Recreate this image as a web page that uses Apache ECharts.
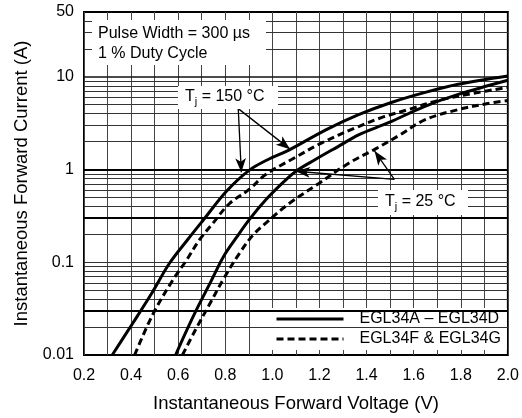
<!DOCTYPE html>
<html><head><meta charset="utf-8">
<script src="https://cdn.jsdelivr.net/npm/echarts@6/dist/echarts.min.js"></script>
<style>html,body{margin:0;padding:0;background:#fff}#c{width:522px;height:418px}</style>
</head><body><div id="c"></div>
<script>
// ---- data (V, A) ----
const solid150 = [[0.32,0.01],[0.407,0.022],[0.487,0.046],[0.563,0.0975],[0.639,0.174],[0.711,0.295],[0.804,0.58],[0.901,0.98],[0.986,1.30],[1.07,1.62],[1.227,2.68],[1.366,3.91],[1.505,5.29],[1.649,6.79],[1.789,8.3],[2.0,10.2]];
const dashed150 = [[0.415,0.01],[0.4915,0.0272],[0.576,0.0637],[0.635,0.105],[0.69,0.174],[0.745,0.259],[0.817,0.428],[0.901,0.61],[0.973,0.889],[1.083,1.29],[1.21,1.94],[1.353,2.82],[1.463,3.63],[1.577,4.43],[1.704,5.56],[1.852,6.62],[2.0,7.7]];
const solid25 = [[0.589,0.01],[0.635,0.0182],[0.682,0.0324],[0.737,0.0606],[0.791,0.1135],[0.846,0.183],[0.901,0.287],[0.973,0.474],[1.041,0.709],[1.1,0.96],[1.184,1.29],[1.282,1.79],[1.366,2.37],[1.493,3.2],[1.645,4.78],[1.789,6.46],[2.0,9.19]];
const dashed25 = [[0.618,0.01],[0.673,0.0186],[0.732,0.0348],[0.796,0.0686],[0.863,0.128],[0.918,0.197],[0.973,0.266],[1.07,0.428],[1.197,0.708],[1.324,1.17],[1.438,1.67],[1.535,2.31],[1.649,3.45],[1.789,4.43],[1.915,5.15],[2.0,5.56]];

const seriesNames = ['EGL34A \u2013 EGL34D', 'EGL34F & EGL34G'];
const xRange = [0.2, 2.0];
const yRange = [0.01, 50];
const yGridThin = [0.02,0.04,0.05,0.06,0.07,0.08,0.09,0.1,0.2,0.4,0.5,0.6,0.7,0.8,0.9,2,3,4,5,6,7,8,9,20,30,40];
const yGridThick = [0.03,0.3,1];
const yGridMedium = [10];
const arrows150 = [[[0.855,4.54],[0.868,0.935]],[[0.855,4.54],[1.075,1.66]]];
const arrows25 = [[[1.518,0.784],[1.100,0.958]],[[1.518,0.784],[1.434,1.58]]];
const noteLines = ['Pulse Width = 300 \u00b5s', '1 % Duty Cycle'];
const xTitle = 'Instantaneous Forward Voltage (V)';
const yTitle = 'Instantaneous Forward Current (A)';

const FF = '"Liberation Sans", Arial, Helvetica, sans-serif';
const chart = echarts.init(document.getElementById('c'), null, {renderer:'canvas'});

const gridLines = [];
yGridThin.forEach(v => gridLines.push({yAxis:v, lineStyle:{color:'#333', width:1, type:'solid'}}));
yGridMedium.forEach(v => gridLines.push({yAxis:v, lineStyle:{color:'#111', width:1.5, type:'solid'}}));
yGridThick.forEach(v => gridLines.push({yAxis:v, lineStyle:{color:'#000', width:2.2, type:'solid'}}));

const arrowData = arrows150.concat(arrows25).map(a => [{coord:a[0]},{coord:a[1]}]);

function curve(name, data, dashed){
  return {
    name, type:'line', data, smooth:0.35, symbol:'none', z:10,
    lineStyle:{color:'#000', width:3, type: dashed ? [7,4] : 'solid', cap:'butt'},
    itemStyle:{color:'#000'},
    emphasis:{disabled:true}, silent:true, animation:false
  };
}

const tjRich = {
  t:{fontSize:16, fontFamily:FF, color:'#000'},
  s:{fontSize:11, fontFamily:FF, color:'#000', padding:[9,0,0,0]}
};

chart.setOption({
  animation:false,
  backgroundColor:'#fff',
  grid:{left:84, right:12, top:12, bottom:61, show:true, borderColor:'#000', borderWidth:2, backgroundColor:'transparent'},
  xAxis:{
    type:'value', min:xRange[0], max:xRange[1], interval:0.2,
    name:xTitle, nameLocation:'middle', nameGap:39,
    nameTextStyle:{fontFamily:FF, fontSize:18.5, color:'#000'},
    axisLine:{show:false}, axisTick:{show:false},
    axisLabel:{fontFamily:FF, fontSize:16, color:'#000', margin:13, formatter:v=>v.toFixed(1)},
    splitLine:{show:true, lineStyle:{color:'#444', width:1}},
    minorTick:{show:false, splitNumber:2},
    minorSplitLine:{show:true, lineStyle:{color:'#444', width:1}}
  },
  yAxis:{
    type:'log', logBase:10, min:yRange[0], max:yRange[1],
    name:yTitle, nameLocation:'middle', nameGap:53,
    nameTextStyle:{fontFamily:FF, fontSize:18.5, color:'#000'},
    axisLine:{show:false}, axisTick:{show:false},
    axisLabel:{fontFamily:FF, fontSize:16, color:'#000', margin:10, formatter:v=>String(+(+v).toPrecision(2))},
    splitLine:{show:false}
  },
  legend:{
    orient:'vertical', left:266, top:308, selectedMode:false,
    backgroundColor:'#fff', padding:[3,6,3,9], itemGap:4,
    itemWidth:67, itemHeight:16,
    itemStyle:{opacity:0},
    lineStyle:{width:3, color:'#000', cap:'butt'},
    textStyle:{fontFamily:FF, fontSize:16, color:'#000', padding:[0,0,0,11]},
    data:seriesNames
  },
  series:[
    {type:'line', data:[], silent:true, z:2,
     markLine:{silent:true, symbol:['none','none'], label:{show:false}, animation:false, data:gridLines}},
    {type:'line', data:[], silent:true, z:12,
     markLine:{silent:true, symbol:['none','arrow'], symbolSize:[8,14], label:{show:false}, animation:false,
       lineStyle:{color:'#000', width:1.3, type:'solid'}, data:arrowData}},
    curve(seriesNames[0], solid150, false),
    curve(seriesNames[1], dashed150, true),
    curve(seriesNames[0], solid25, false),
    curve(seriesNames[1], dashed25, true)
  ],
  graphic:[
    {type:'rect', z:50, shape:{x:92, y:20, width:174, height:45}, style:{fill:'#fff'}},
    {type:'text', z:51, left:98, top:24, style:{text:noteLines.join('\n'), fontFamily:FF, fontSize:16, lineHeight:20, fill:'#000'}},
    {type:'rect', z:50, shape:{x:178, y:86, width:100, height:23}, style:{fill:'#fff'}},
    {type:'text', z:51, left:185, top:89, style:{text:'{t|T}{s|j}{t| = 150 \u00b0C}', rich:tjRich}},
    {type:'rect', z:50, shape:{x:378, y:190, width:90, height:25}, style:{fill:'#fff'}},
    {type:'text', z:51, left:385, top:194, style:{text:'{t|T}{s|j}{t| = 25 \u00b0C}', rich:tjRich}}
  ]
});
</script></body></html>
